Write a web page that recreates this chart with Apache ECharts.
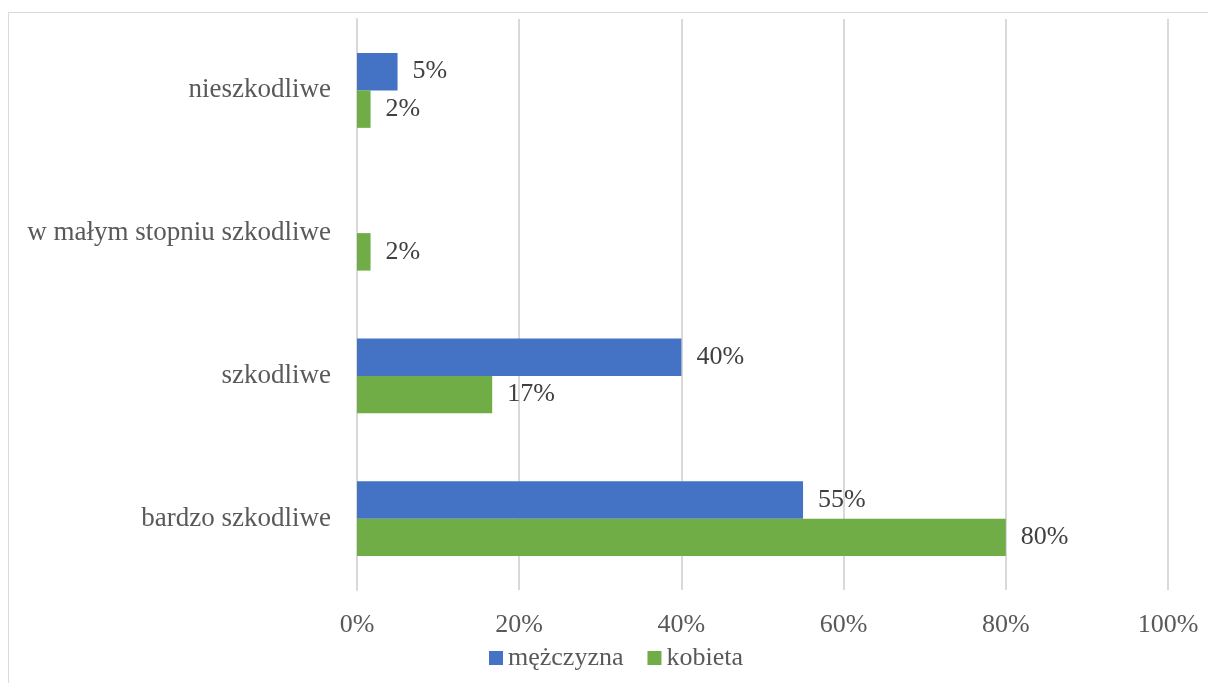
<!DOCTYPE html>
<html>
<head>
<meta charset="utf-8">
<script src="https://cdn.jsdelivr.net/npm/echarts@6/dist/echarts.min.js"></script>
<style>html,body{margin:0;padding:0;background:#fff}#c{width:1208px;height:683px}</style>
</head>
<body>
<div id="c"></div>
<script>
const categories = ['nieszkodliwe', 'w małym stopniu szkodliwe', 'szkodliwe', 'bardzo szkodliwe'];
const seriesNames = ['mężczyzna', 'kobieta'];
const menValues = [5, 0, 40, 55];
const womenValues = [1.67, 1.67, 16.67, 80];
const xTicks = [0, 20, 40, 60, 80, 100];

const font = 'Liberation Serif, Times New Roman, serif';
const chart = echarts.init(document.getElementById('c'), null, {renderer: 'canvas'});
const labelCfg = {
  show: true, position: 'right', distance: 15,
  color: '#404040', fontFamily: font, fontSize: 26,
  formatter: p => p.value ? Math.round(p.value) + '%' : ''
};
chart.setOption({
  animation: false,
  backgroundColor: '#fff',
  graphic: [{type: 'rect', shape: {x: 8.5, y: 12.5, width: 1210, height: 690}, style: {fill: 'none', stroke: '#d9d9d9', lineWidth: 1}, silent: true}],
  grid: {left: 357, right: 40, top: 19, bottom: 93},
  legend: {
    data: seriesNames, bottom: 12, left: 489, itemWidth: 14, itemHeight: 14, itemGap: 24,
    icon: 'rect', padding: 0,
    textStyle: {fontFamily: font, fontSize: 26, color: '#595959'}
  },
  xAxis: {
    type: 'value', min: xTicks[0], max: xTicks[xTicks.length - 1], interval: 20,
    axisLine: {show: false}, axisTick: {show: false},
    splitLine: {lineStyle: {color: '#d9d9d9', width: 2}},
    axisLabel: {formatter: v => v + '%', fontFamily: font, fontSize: 26, color: '#595959', margin: 22}
  },
  yAxis: {
    type: 'category', data: categories, inverse: true,
    axisLine: {show: true, lineStyle: {color: '#d9d9d9', width: 2}}, axisTick: {show: false},
    axisLabel: {fontFamily: font, fontSize: 27, color: '#595959', margin: 26}
  },
  series: [
    {name: seriesNames[0], type: 'bar', data: menValues, itemStyle: {color: '#4472C4'}, barGap: '0%', barCategoryGap: '47.5%', label: labelCfg},
    {name: seriesNames[1], type: 'bar', data: womenValues, itemStyle: {color: '#70AD47'}, barGap: '0%', barCategoryGap: '47.5%', label: labelCfg}
  ]
});
</script>
</body>
</html>
